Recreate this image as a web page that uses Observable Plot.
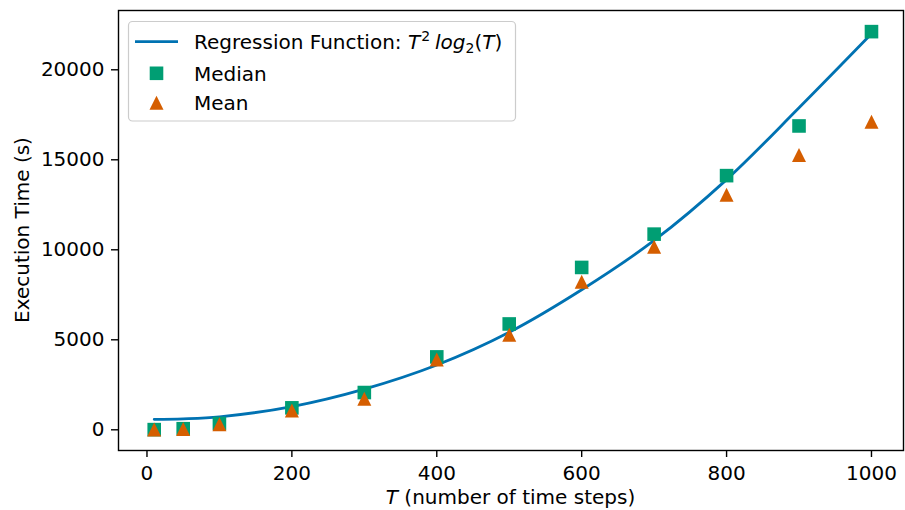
<!DOCTYPE html>
<html><head><meta charset="utf-8">
<script src="https://cdn.jsdelivr.net/npm/d3@7"></script>
<script src="https://cdn.jsdelivr.net/npm/@observablehq/plot@0.6"></script>
<style>
body{margin:0;background:#fff;}
#chart{position:relative;width:905px;height:510px;}
</style>
</head><body><div id="chart"></div>
<script>
// Time steps
const T = [10, 50, 100, 200, 300, 400, 500, 600, 700, 800, 900, 1000];
// Median execution time (s)
const median = [10, 60, 350, 1220, 2070, 4050, 5880, 9020, 10870, 14120, 16880, 22120];
// Mean execution time (s)
const mean = [10, 50, 310, 1070, 1730, 3910, 5280, 8230, 10170, 13060, 15270, 17120];
// Regression curve values at each T
const fitValues = [580, 610, 720, 1290, 2260, 3600, 5420, 7780, 10520, 13900, 17890, 22000];

const xTicks = [0, 200, 400, 600, 800, 1000];
const yTicks = [0, 5000, 10000, 15000, 20000];

const colors = {fit: "#0072B2", median: "#009E73", mean: "#D55E00"};

const medData = T.map((t, i) => ({T: t, v: median[i]}));
const meanData = T.map((t, i) => ({T: t, v: mean[i]}));
const fitData = T.map((t, i) => ({T: t, v: fitValues[i]}));

const squareSym = {draw(ctx, size) { const r = Math.sqrt(size / Math.PI); ctx.moveTo(-r, -r); ctx.lineTo(r, -r); ctx.lineTo(r, r); ctx.lineTo(-r, r); ctx.closePath(); }};
const triSym = {draw(ctx, size) { const r = Math.sqrt(size / Math.PI); ctx.moveTo(0, -r); ctx.lineTo(r, r); ctx.lineTo(-r, r); ctx.closePath(); }};

const font = "'DejaVu Sans', sans-serif";
const FS = 20;

const chart = Plot.plot({
  width: 905, height: 510,
  marginLeft: 118, marginRight: 2, marginTop: 10, marginBottom: 60,
  style: {fontFamily: font, fontSize: FS + "px", color: "#000", background: "#fff"},
  x: {domain: [-39.3, 1044.2]},
  y: {domain: [-1150, 23294]},
  marks: [
    Plot.axisX({ticks: xTicks, tickSize: 7, tickPadding: 8, label: null, tickFormat: d => String(d), strokeWidth: 1.4, fontSize: FS, fontFamily: font}),
    Plot.axisY({ticks: yTicks, tickSize: 7, tickPadding: 7, label: null, tickFormat: d => String(d), strokeWidth: 1.4, fontSize: FS, fontFamily: font}),
    Plot.line(fitData, {x: "T", y: "v", stroke: colors.fit, strokeWidth: 2.8, curve: "catmull-rom"}),
    Plot.dot(medData, {x: "T", y: "v", symbol: squareSym, r: 6.8, fill: colors.median, stroke: "none"}),
    Plot.dot(meanData, {x: "T", y: "v", symbol: triSym, r: 7, fill: colors.mean, stroke: "none"}),
    Plot.frame({stroke: "#000", strokeWidth: 1.4})
  ]
});
document.getElementById("chart").appendChild(chart);

const svg = d3.select(chart);

function txt(sel) {
  return sel.append("text").attr("font-family", font).attr("font-size", FS).attr("fill", "#000").attr("text-anchor", "start");
}

// x label
const xl = txt(svg).attr("x", 510.5).attr("y", 503.5).attr("text-anchor", "middle");
xl.append("tspan").attr("font-style", "italic").text("T");
xl.append("tspan").text(" (number of time steps)");

// y label
txt(svg).attr("transform", "translate(22,230) rotate(-90)").attr("text-anchor", "middle")
  .attr("dy", "0.35em").text("Execution Time (s)");

// legend
const lg = svg.append("g");
lg.append("rect").attr("x", 128.5).attr("y", 21.5).attr("width", 387).attr("height", 99.5)
  .attr("rx", 4).attr("fill", "#fff").attr("fill-opacity", 0.8).attr("stroke", "#cccccc").attr("stroke-width", 1.2);
lg.append("line").attr("x1", 135).attr("x2", 178).attr("y1", 41.7).attr("y2", 41.7)
  .attr("stroke", colors.fit).attr("stroke-width", 2.8);
lg.append("path").attr("transform", "translate(156.5,73.3)").attr("d", d3.symbol(squareSym, Math.PI * 6.8 * 6.8)()).attr("fill", colors.median);
lg.append("path").attr("transform", "translate(156.5,102.7)").attr("d", d3.symbol(triSym, Math.PI * 7 * 7)()).attr("fill", colors.mean);

const t1 = txt(lg).attr("x", 194).attr("y", 48.8);
t1.append("tspan").text("Regression Function: ");
t1.append("tspan").attr("font-style", "italic").text("T");
t1.append("tspan").attr("font-size", 14).attr("dy", -8).attr("dx", 1).text("2");
t1.append("tspan").attr("font-style", "italic").attr("dy", 8).attr("dx", 5).text("log");
t1.append("tspan").attr("font-size", 14).attr("dy", 4).text("2");
t1.append("tspan").attr("dy", -4).text("(");
t1.append("tspan").attr("font-style", "italic").text("T");
t1.append("tspan").text(")");

txt(lg).attr("x", 194).attr("y", 80.5).text("Median");
txt(lg).attr("x", 194).attr("y", 110).text("Mean");
</script>
</body></html>
